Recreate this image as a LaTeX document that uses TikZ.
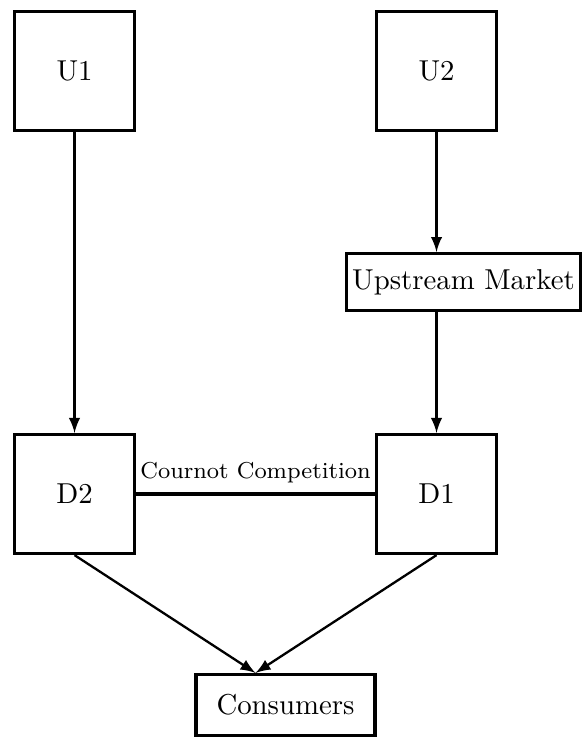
\documentclass[tikz,border=0pt]{standalone}
\usetikzlibrary{positioning}

\tikzset{
   firm/.style = {draw, line width=1.2pt, minimum width=1.46cm, minimum height=1.45cm},
   market/.style = {draw, line width=1.2pt, minimum height=0.69cm, inner xsep=2pt},
}

\begin{document}
\begin{tikzpicture} [node distance = 2.576cm, on grid]
   \useasboundingbox (0,0) rectangle (7.118,-9.06);

   \node (u1)[firm] at (0.91,-0.867) {U1};
   \node (u2)[firm, right = 4.42cm of u1] {U2};
   \node (d2)[firm, below = 5.165cm of u1] {D2};
   \node (d1)[firm, right = 4.42cm of d2] {D1};
   \node (um)[market, below right = 2.576cm and 0.329cm of u2] {Upstream Market};
   \node (cons)[market, minimum width=2.19cm, minimum height=0.74cm,
                below right = 2.576cm and 2.576cm of d2] {Consumers};

   % arrows meet above the box, midway between the two downstream firms
   \path (d2) -- (d1) coordinate[midway] (dmid);
   \coordinate (meet) at (dmid |- cons.north);

   \path[-latex,thick](u1) edge (d2);
   \path[-latex,thick](u2.south) edge (u2.south |- um.north);
   \path[-latex,thick](d1.north |- um.south) edge (d1.north);
   \path[-latex,thick](d2.south) edge (meet);
   \path[-latex,thick](d1.south) edge (meet);
   \path[line width=1.1pt](d2) edge node[above, font=\footnotesize] {Cournot Competition} (d1);
\end{tikzpicture}
\end{document}
